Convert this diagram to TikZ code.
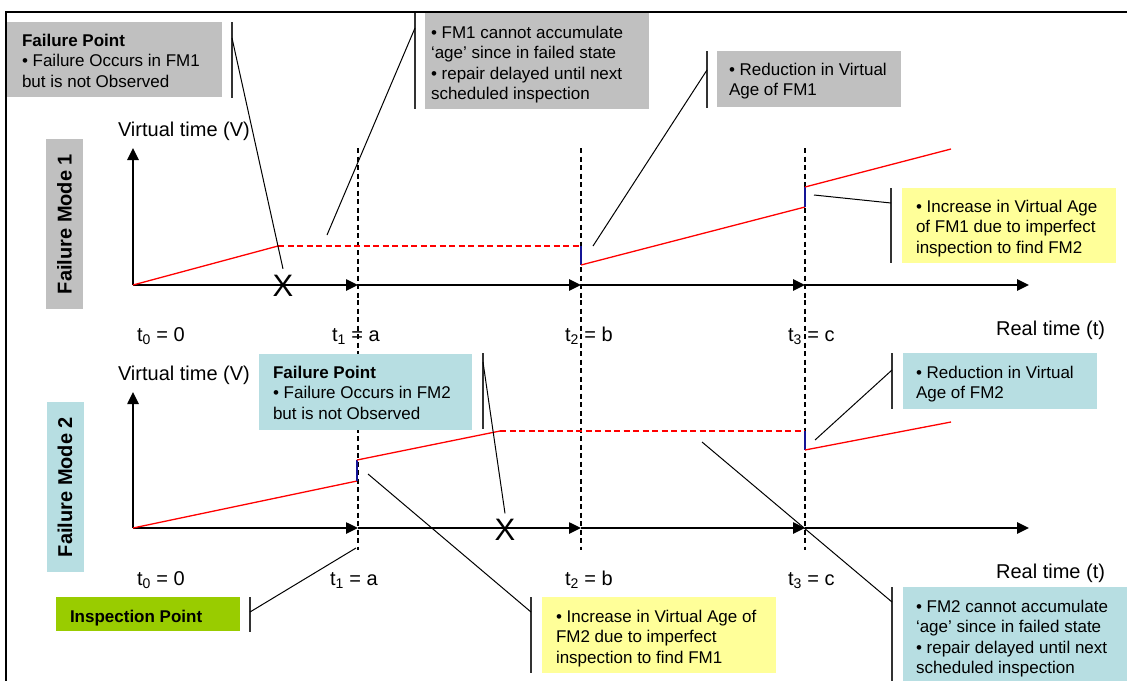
\documentclass[tikz,border=0pt]{standalone}
\usepackage{fontspec}
\setmainfont{Liberation Sans}
\usetikzlibrary{arrows.meta}

\definecolor{notegray}{RGB}{192,192,192}
\definecolor{noteblue}{RGB}{183,222,226}
\definecolor{noteyellow}{RGB}{255,255,153}
\definecolor{notegreen}{RGB}{153,204,0}
\definecolor{jumpnavy}{RGB}{20,20,150}

\tikzset{
  every node/.style={inner sep=0pt, outer sep=0pt},
  axisline/.style={line width=2.5pt, -{Triangle[length=12pt,width=11pt]}},
  epochline/.style={line width=1.8pt, dash pattern=on 5pt off 3.5pt},
  agepath/.style={red, line width=1.3pt},
  agehold/.style={red, line width=2.3pt, dash pattern=on 6pt off 3.5pt},
  agejump/.style={jumpnavy, line width=1.1pt},
  notebox/.style={anchor=north west, draw=none},
  notetext/.style={anchor=north west, align=left, font=\fontsize{17}{20.5}\selectfont},
  accentbar/.style={line width=1.4pt, black!80},
  leader/.style={line width=1pt},
  axislabel/.style={font=\fontsize{20}{24}\selectfont},
  modelabel/.style={font=\fontsize{20}{24}\selectfont\bfseries, rotate=90,
    minimum width=170pt, minimum height=37pt},
  failmark/.style={font=\fontsize{31}{31}\selectfont},
}

\begin{document}
\begin{tikzpicture}[x=1pt, y=-1pt]
\useasboundingbox (0,0) rectangle (1127,681);

% ---------------- Failure mode 1 ----------------
\coordinate (o1) at (133,285);
\coordinate (ytop1) at (133,148);
\coordinate (a1) at (358,285);
\coordinate (b1) at (581,285);
\coordinate (c1) at (805,285);
\coordinate (end1) at (1029,285);
\foreach \n/\x in {a/358, b/581, c/805} {
  \coordinate (\n1top) at (\x,148);
  \coordinate (\n1bot) at (\x,300);
  \draw[epochline] (\n1top) -- (\n1bot);
}
\draw[axisline] (o1) -- (ytop1);
\draw[axisline] (o1) -- (a1);
\draw[axisline] (a1) -- (b1);
\draw[axisline] (b1) -- (c1);
\draw[axisline] (c1) -- (end1);

\coordinate (f1) at (278,246);
\coordinate (b1h) at (581,246);
\coordinate (b1l) at (581,265);
\coordinate (c1l) at (805,207);
\coordinate (c1h) at (805,187);
\coordinate (e1) at (951,149);
\draw[agepath] (o1) -- (f1);
\draw[agehold] (f1) -- (b1h);
\draw[agejump] (b1h) -- (b1l);
\draw[agepath] (b1l) -- (c1l);
\draw[agejump] (c1l) -- (c1h);
\draw[agepath] (c1h) -- (e1);

\node[failmark] (x1) at (283,285.5) {X};

\node[modelabel, fill=notegray] (fm1) at (64.5,224) {Failure Mode 1};
\node[axislabel, anchor=base west] (v1) at (118,136) {Virtual time (V)};
\node[axislabel, anchor=base west] (t01) at (137,341) {t\textsubscript{0} = 0};
\node[axislabel, anchor=base west] (t11) at (332,341) {t\textsubscript{1} = a};
\node[axislabel, anchor=base west] (t21) at (565,341) {t\textsubscript{2} = b};
\node[axislabel, anchor=base west] (t31) at (788,341) {t\textsubscript{3} = c};
\node[axislabel, anchor=base east] (r1) at (1105,335) {Real time (t)};

% ---------------- Failure mode 2 ----------------
\coordinate (o2) at (133,528);
\coordinate (ytop2) at (133,392);
\coordinate (a2) at (358,528);
\coordinate (b2) at (581,528);
\coordinate (c2) at (805,528);
\coordinate (end2) at (1029,528);
\foreach \n/\x in {a/358, b/581, c/805} {
  \coordinate (\n2top) at (\x,300);
  \coordinate (\n2bot) at (\x,550);
  \draw[epochline] (\n2top) -- (\n2bot);
}
\draw[axisline] (o2) -- (ytop2);
\draw[axisline] (o2) -- (a2);
\draw[axisline] (a2) -- (b2);
\draw[axisline] (b2) -- (c2);
\draw[axisline] (c2) -- (end2);

\coordinate (a2l) at (357,481);
\coordinate (a2h) at (357,460);
\coordinate (f2) at (500,431);
\coordinate (c2h) at (805,431);
\coordinate (c2l) at (805,450);
\coordinate (e2) at (951,422);
\draw[agepath] (o2) -- (a2l);
\draw[agejump] (a2l) -- (a2h);
\draw[agepath] (a2h) -- (f2);
\draw[agehold] (f2) -- (c2h);
\draw[agejump] (c2h) -- (c2l);
\draw[agepath] (c2l) -- (e2);

\node[failmark] (x2) at (505,530) {X};

\node[modelabel, fill=noteblue] (fm2) at (65,487) {Failure Mode 2};
\node[axislabel, anchor=base west] (v2) at (118,380) {Virtual time (V)};
\node[axislabel, anchor=base west] (t02) at (137,585) {t\textsubscript{0} = 0};
\node[axislabel, anchor=base west] (t12) at (330,585) {t\textsubscript{1} = a};
\node[axislabel, anchor=base west] (t22) at (565,585) {t\textsubscript{2} = b};
\node[axislabel, anchor=base west] (t32) at (788,585) {t\textsubscript{3} = c};
\node[axislabel, anchor=base east] (r2) at (1105,578) {Real time (t)};

% ---------------- Callouts ----------------
% A: failure in FM1
\node[notebox, fill=notegray, minimum width=215pt, minimum height=75pt] (nA) at (7,22) {};
\node[notetext] (nAt) at (22,34) {\textbf{Failure Point}\\• Failure Occurs in FM1\\but is not Observed};
\coordinate (nAb1) at (232,22); \coordinate (nAb2) at (232,98); \coordinate (nAl) at (232,38);
\draw[accentbar] (nAb1) -- (nAb2);
\draw[leader] (nAl) -- ([yshift=6pt]x1.north);

% B: FM1 frozen
\node[notebox, fill=notegray, minimum width=224pt, minimum height=97pt] (nB) at (425,12) {};
\node[notetext] (nBt) at (431,26) {• FM1 cannot accumulate\\‘age’ since in failed state\\• repair delayed until next\\scheduled inspection};
\coordinate (nBb1) at (415,12); \coordinate (nBb2) at (415,109); \coordinate (nBl) at (415,28);
\coordinate (nBe) at (327,235);
\draw[accentbar] (nBb1) -- (nBb2);
\draw[leader] (nBl) -- (nBe);

% C: reduction FM1
\node[notebox, fill=notegray, minimum width=184pt, minimum height=56pt] (nC) at (717,51) {};
\node[notetext] (nCt) at (729,63) {• Reduction in Virtual\\Age of FM1};
\coordinate (nCb1) at (707,51); \coordinate (nCb2) at (707,108); \coordinate (nCl) at (707,70);
\coordinate (nCe) at (593,246);
\draw[accentbar] (nCb1) -- (nCb2);
\draw[leader] (nCl) -- (nCe);

% D: increase FM1
\node[notebox, fill=noteyellow, minimum width=214pt, minimum height=75pt] (nD) at (902,188) {};
\node[notetext] (nDt) at (916,200) {• Increase in Virtual Age\\of FM1 due to imperfect\\inspection to find FM2};
\coordinate (nDb1) at (891,188); \coordinate (nDb2) at (891,263); \coordinate (nDl) at (891,203);
\coordinate (nDe) at (814,195);
\draw[accentbar] (nDb1) -- (nDb2);
\draw[leader] (nDl) -- (nDe);

% E: failure in FM2
\node[notebox, fill=noteblue, minimum width=213pt, minimum height=76pt] (nE) at (259,354) {};
\node[notetext] (nEt) at (273,366) {\textbf{Failure Point}\\• Failure Occurs in FM2\\but is not Observed};
\coordinate (nEb1) at (483,353); \coordinate (nEb2) at (483,429); \coordinate (nEl) at (483,362);
\draw[accentbar] (nEb1) -- (nEb2);
\draw[leader] (nEl) -- ([yshift=6pt]x2.north);

% F: reduction FM2
\node[notebox, fill=noteblue, minimum width=194pt, minimum height=56pt] (nF) at (903,353) {};
\node[notetext] (nFt) at (916,366) {• Reduction in Virtual\\Age of FM2};
\coordinate (nFb1) at (892,353); \coordinate (nFb2) at (892,409); \coordinate (nFl) at (892,370);
\coordinate (nFe) at (815,440);
\draw[accentbar] (nFb1) -- (nFb2);
\draw[leader] (nFl) -- (nFe);

% G: inspection point
\node[notebox, fill=notegreen, minimum width=184pt, minimum height=34pt] (nG) at (56,597) {};
\node[notetext, font=\fontsize{17}{20.5}\selectfont\bfseries] (nGt) at (70,610) {Inspection Point};
\coordinate (nGb1) at (250,597); \coordinate (nGb2) at (250,632); \coordinate (nGl) at (250,612);
\coordinate (nGe) at (356,548);
\draw[accentbar] (nGb1) -- (nGb2);
\draw[leader] (nGl) -- (nGe);

% H: increase FM2
\node[notebox, fill=noteyellow, minimum width=234pt, minimum height=76pt] (nH) at (542,597) {};
\node[notetext] (nHt) at (556,610) {• Increase in Virtual Age of\\FM2 due to imperfect\\inspection to find FM1};
\coordinate (nHb1) at (531,597); \coordinate (nHb2) at (531,673); \coordinate (nHl) at (531,612);
\coordinate (nHe) at (368,474);
\draw[accentbar] (nHb1) -- (nHb2);
\draw[leader] (nHl) -- (nHe);

% I: FM2 frozen
\node[notebox, fill=noteblue, minimum width=224pt, minimum height=94pt] (nI) at (903,587) {};
\node[notetext] (nIt) at (916,600) {• FM2 cannot accumulate\\‘age’ since in failed state\\• repair delayed until next\\scheduled inspection};
\coordinate (nIb1) at (892,587); \coordinate (nIb2) at (892,681); \coordinate (nIl) at (892,602);
\coordinate (nIe) at (702,442);
\draw[accentbar] (nIb1) -- (nIb2);
\draw[leader] (nIl) -- (nIe);

% ---------------- Frame ----------------
\coordinate (fr1) at (1127,12);
\coordinate (fr2) at (6,12);
\coordinate (fr3) at (6,681);
\draw[line width=2.5pt] (fr1) -- (fr2) -- (fr3);
\end{tikzpicture}
\end{document}
